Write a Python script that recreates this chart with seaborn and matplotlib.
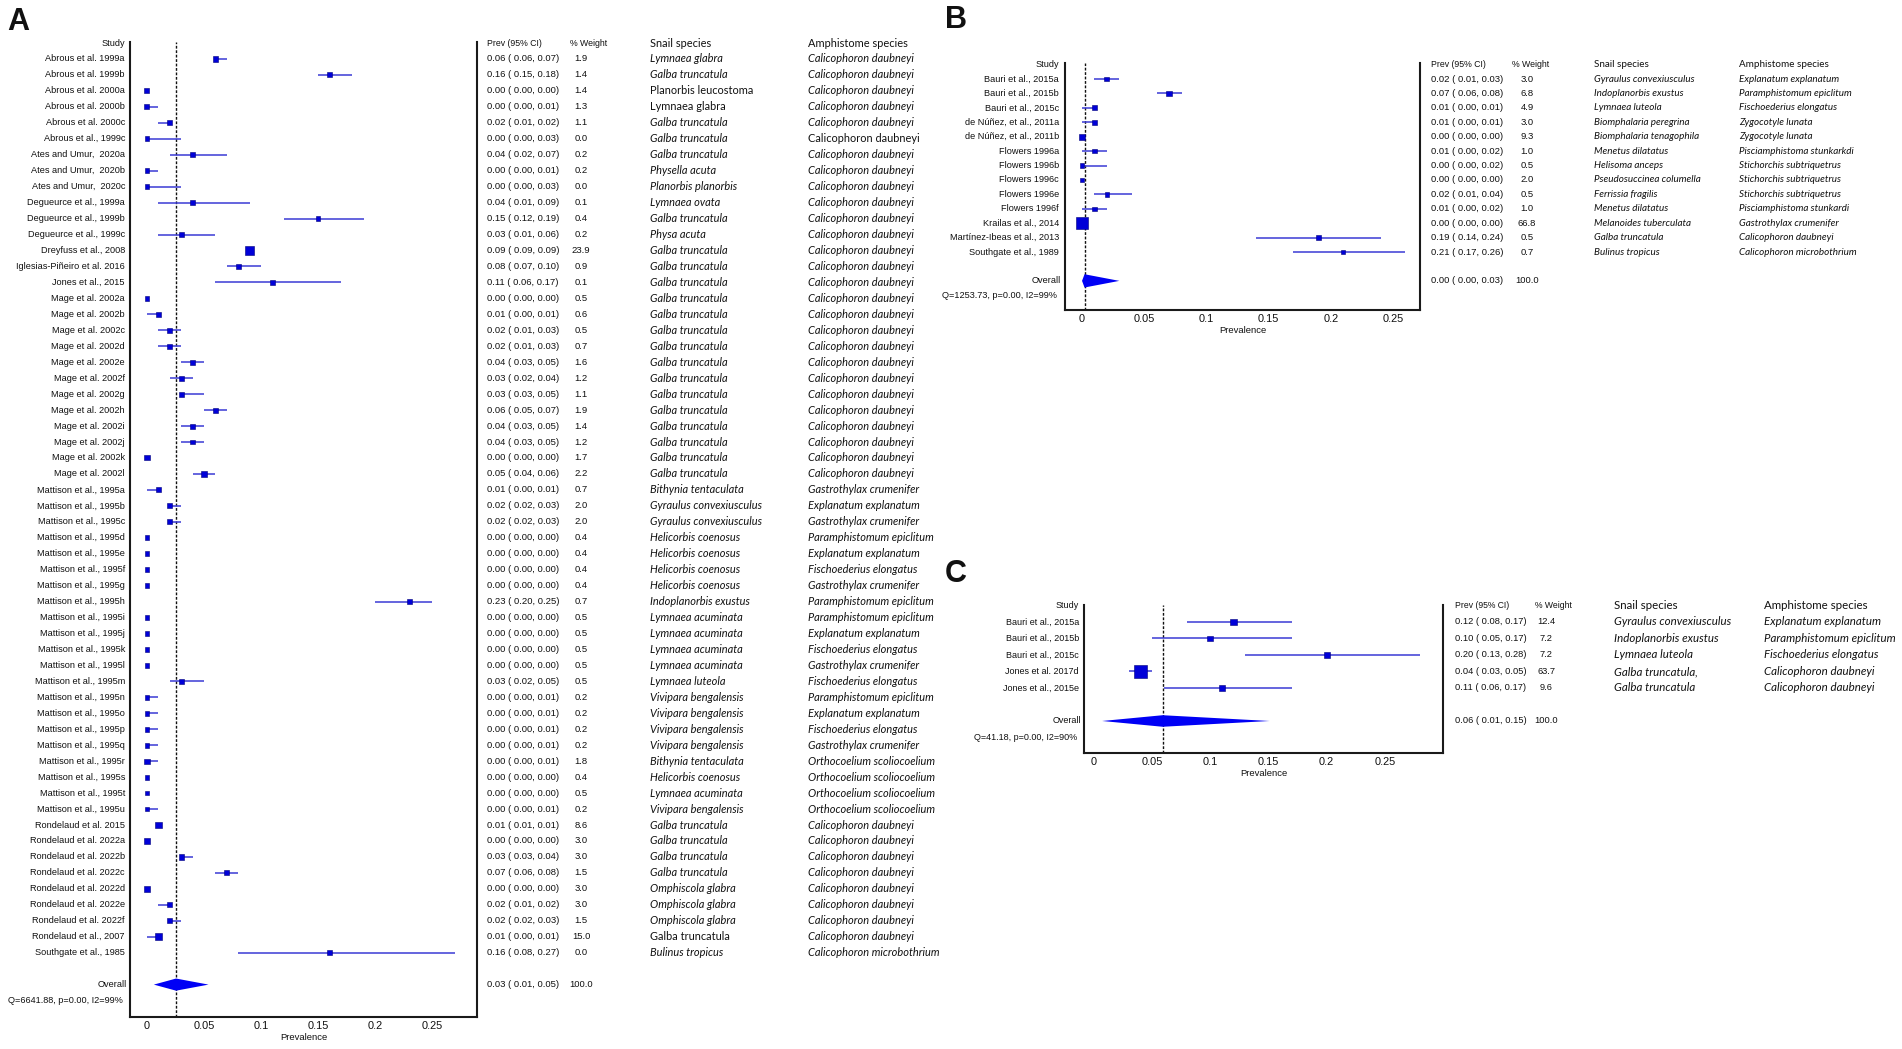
import numpy as np
import pandas as pd
import matplotlib
matplotlib.use("Agg")
import matplotlib.pyplot as plt
import matplotlib.transforms as mtransforms
import seaborn as sns

# ---------------- Panel A data ----------------
a_study = (["Abrous et al. 1999a", "Abrous et al. 1999b", "Abrous et al. 2000a",
            "Abrous et al. 2000b", "Abrous et al. 2000c", "Abrous et al., 1999c",
            "Ates and Umur,  2020a", "Ates and Umur,  2020b", "Ates and Umur,  2020c",
            "Degueurce et al., 1999a", "Degueurce et al., 1999b", "Degueurce et al., 1999c",
            "Dreyfuss et al., 2008", "Iglesias-Piñeiro et al. 2016", "Jones et al., 2015"]
           + [f"Mage et al. 2002{c}" for c in "abcdefghijkl"]
           + [f"Mattison et al., 1995{c}" for c in "abcdefghijklmnopqrstu"]
           + ["Rondelaud et al. 2015"]
           + [f"Rondelaud et al. 2022{c}" for c in "abcdef"]
           + ["Rondelaud et al., 2007", "Southgate et al., 1985"])
a_est = [0.06, 0.16, 0.00, 0.00, 0.02, 0.00, 0.04, 0.00, 0.00, 0.04, 0.15, 0.03, 0.09, 0.08, 0.11,
         0.00, 0.01, 0.02, 0.02, 0.04, 0.03, 0.03, 0.06, 0.04, 0.04, 0.00, 0.05,
         0.01, 0.02, 0.02, 0.00, 0.00, 0.00, 0.00, 0.23, 0.00, 0.00, 0.00, 0.00, 0.03,
         0.00, 0.00, 0.00, 0.00, 0.00, 0.00, 0.00, 0.00,
         0.01, 0.00, 0.03, 0.07, 0.00, 0.02, 0.02, 0.01, 0.16]
a_lo = [0.06, 0.15, 0.00, 0.00, 0.01, 0.00, 0.02, 0.00, 0.00, 0.01, 0.12, 0.01, 0.09, 0.07, 0.06,
        0.00, 0.00, 0.01, 0.01, 0.03, 0.02, 0.03, 0.05, 0.03, 0.03, 0.00, 0.04,
        0.00, 0.02, 0.02, 0.00, 0.00, 0.00, 0.00, 0.20, 0.00, 0.00, 0.00, 0.00, 0.02,
        0.00, 0.00, 0.00, 0.00, 0.00, 0.00, 0.00, 0.00,
        0.01, 0.00, 0.03, 0.06, 0.00, 0.01, 0.02, 0.00, 0.08]
a_hi = [0.07, 0.18, 0.00, 0.01, 0.02, 0.03, 0.07, 0.01, 0.03, 0.09, 0.19, 0.06, 0.09, 0.10, 0.17,
        0.00, 0.01, 0.03, 0.03, 0.05, 0.04, 0.05, 0.07, 0.05, 0.05, 0.00, 0.06,
        0.01, 0.03, 0.03, 0.00, 0.00, 0.00, 0.00, 0.25, 0.00, 0.00, 0.00, 0.00, 0.05,
        0.01, 0.01, 0.01, 0.01, 0.01, 0.00, 0.00, 0.01,
        0.01, 0.00, 0.04, 0.08, 0.00, 0.02, 0.03, 0.01, 0.27]
a_weight = [1.9, 1.4, 1.4, 1.3, 1.1, 0.0, 0.2, 0.2, 0.0, 0.1, 0.4, 0.2, 23.9, 0.9, 0.1,
            0.5, 0.6, 0.5, 0.7, 1.6, 1.2, 1.1, 1.9, 1.4, 1.2, 1.7, 2.2,
            0.7, 2.0, 2.0, 0.4, 0.4, 0.4, 0.4, 0.7, 0.5, 0.5, 0.5, 0.5, 0.5,
            0.2, 0.2, 0.2, 0.2, 1.8, 0.4, 0.5, 0.2,
            8.6, 3.0, 3.0, 1.5, 3.0, 3.0, 1.5, 15.0, 0.0]
a_snail = ["Lymnaea glabra", "Galba truncatula", "Planorbis leucostoma", "Lymnaea glabra",
           "Galba truncatula", "Galba truncatula", "Galba truncatula", "Physella acuta",
           "Planorbis planorbis", "Lymnaea ovata", "Galba truncatula", "Physa acuta",
           "Galba truncatula", "Galba truncatula", "Galba truncatula",
           "Galba truncatula", "Galba truncatula", "Galba truncatula", "Galba truncatula",
           "Galba truncatula", "Galba truncatula", "Galba truncatula", "Galba truncatula",
           "Galba truncatula", "Galba truncatula", "Galba truncatula", "Galba truncatula",
           "Bithynia tentaculata", "Gyraulus convexiusculus", "Gyraulus convexiusculus",
           "Helicorbis coenosus", "Helicorbis coenosus", "Helicorbis coenosus", "Helicorbis coenosus",
           "Indoplanorbis exustus", "Lymnaea acuminata", "Lymnaea acuminata", "Lymnaea acuminata",
           "Lymnaea acuminata", "Lymnaea luteola", "Vivipara bengalensis", "Vivipara bengalensis",
           "Vivipara bengalensis", "Vivipara bengalensis", "Bithynia tentaculata",
           "Helicorbis coenosus", "Lymnaea acuminata", "Vivipara bengalensis",
           "Galba truncatula", "Galba truncatula", "Galba truncatula", "Galba truncatula",
           "Omphiscola glabra", "Omphiscola glabra", "Omphiscola glabra", "Galba truncatula",
           "Bulinus tropicus"]
a_amph = (["Calicophoron daubneyi"] * 27
          + ["Gastrothylax crumenifer", "Explanatum explanatum", "Gastrothylax crumenifer",
             "Paramphistomum epiclitum", "Explanatum explanatum", "Fischoederius elongatus",
             "Gastrothylax crumenifer", "Paramphistomum epiclitum", "Paramphistomum epiclitum",
             "Explanatum explanatum", "Fischoederius elongatus", "Gastrothylax crumenifer",
             "Fischoederius elongatus", "Paramphistomum epiclitum", "Explanatum explanatum",
             "Fischoederius elongatus", "Gastrothylax crumenifer",
             "Orthocoelium scoliocoelium", "Orthocoelium scoliocoelium",
             "Orthocoelium scoliocoelium", "Orthocoelium scoliocoelium"]
          + ["Calicophoron daubneyi"] * 8
          + ["Calicophoron microbothrium"])
a_plain_snail = [3, 4, 56]   # rows printed upright in the source table
a_plain_amph = [6]
a_overall = [0.0255, 0.006, 0.054]
a_q = "Q=6641.88, p=0.00, I2=99%"

# ---------------- Panel B data ----------------
b_study = ["Bauri et al., 2015a", "Bauri et al., 2015b", "Bauri et al., 2015c",
           "de Núñez, et al., 2011a", "de Núñez, et al., 2011b", "Flowers 1996a",
           "Flowers 1996b", "Flowers 1996c", "Flowers 1996e", "Flowers 1996f",
           "Krailas et al., 2014", "Martínez-Ibeas et al., 2013", "Southgate et al., 1989"]
b_est = [0.02, 0.07, 0.01, 0.01, 0.00, 0.01, 0.00, 0.00, 0.02, 0.01, 0.00, 0.19, 0.21]
b_lo = [0.01, 0.06, 0.00, 0.00, 0.00, 0.00, 0.00, 0.00, 0.01, 0.00, 0.00, 0.14, 0.17]
b_hi = [0.03, 0.08, 0.01, 0.01, 0.00, 0.02, 0.02, 0.00, 0.04, 0.02, 0.00, 0.24, 0.26]
b_weight = [3.0, 6.8, 4.9, 3.0, 9.3, 1.0, 0.5, 2.0, 0.5, 1.0, 66.8, 0.5, 0.7]
b_snail = ["Gyraulus convexiusculus", "Indoplanorbis exustus", "Lymnaea luteola",
           "Biomphalaria peregrina", "Biomphalaria tenagophila", "Menetus dilatatus",
           "Helisoma anceps", "Pseudosuccinea columella", "Ferrissia fragilis",
           "Menetus dilatatus", "Melanoides tuberculata", "Galba truncatula", "Bulinus tropicus"]
b_amph = ["Explanatum explanatum", "Paramphistomum epiclitum", "Fischoederius elongatus",
          "Zygocotyle lunata", "Zygocotyle lunata", "Pisciamphistoma stunkarkdi",
          "Stichorchis subtriquetrus", "Stichorchis subtriquetrus", "Stichorchis subtriquetrus",
          "Pisciamphistoma stunkardi", "Gastrothylax crumenifer", "Calicophoron daubneyi",
          "Calicophoron microbothrium"]
b_overall = [0.002, 0.000, 0.030]
b_q = "Q=1253.73, p=0.00, I2=99%"

# ---------------- Panel C data ----------------
c_study = ["Bauri et al., 2015a", "Bauri et al., 2015b", "Bauri et al., 2015c",
           "Jones et al. 2017d", "Jones et al., 2015e"]
c_est = [0.12, 0.10, 0.20, 0.04, 0.11]
c_lo = [0.08, 0.05, 0.13, 0.03, 0.06]
c_hi = [0.17, 0.17, 0.28, 0.05, 0.17]
c_weight = [12.4, 7.2, 7.2, 63.7, 9.6]
c_snail = ["Gyraulus convexiusculus", "Indoplanorbis exustus", "Lymnaea luteola",
           "Galba truncatula,", "Galba truncatula"]
c_amph = ["Explanatum explanatum", "Paramphistomum epiclitum", "Fischoederius elongatus",
          "Calicophoron daubneyi", "Calicophoron daubneyi"]
c_overall = [0.059, 0.007, 0.151]
c_q = "Q=41.18, p=0.00, I2=90%"

tick_vals = [0, 0.05, 0.1, 0.15, 0.2, 0.25]
tick_labels = ["0", "0.05", "0.1", "0.15", "0.2", "0.25"]

W, H = 1902, 1049
CI_COLOR = "#3b3bd4"
BOX_FACE = "#0000d8"
BOX_EDGE = "#00007a"
DIAMOND = "#0000f5"
SANS = ["Liberation Sans", "DejaVu Sans"]
SPECIES = ["Lato", "DejaVu Sans"]

sns.set_style("white")
plt.rcParams["font.family"] = SANS


def draw_panel(fig, d, lay):
    left, top, right, bottom = lay["rect"]
    ax = fig.add_axes([left / W, 1 - bottom / H, (right - left) / W, (bottom - top) / H])
    n = len(d["study"])
    rows = np.arange(1, n + 1)

    # confidence intervals + weighted boxes
    ax.hlines(rows, d["lo"], d["hi"], color=CI_COLOR, lw=1.1, zorder=2)
    df = pd.DataFrame({"est": d["est"], "row": rows, "weight": d["weight"]})
    sns.scatterplot(data=df, x="est", y="row", size="weight", sizes=lay["sizes"],
                    size_norm=lay["size_norm"], marker="s", color=BOX_FACE,
                    edgecolor=BOX_EDGE, linewidth=0.4, legend=False, ax=ax, zorder=3)

    # pooled diamond and reference line
    e, lo, hi = d["overall"]
    ov = n + 2
    dh = lay["diamond_h"]
    ax.fill([lo, e, hi, e], [ov, ov - dh, ov, ov + dh], color=DIAMOND, lw=0, zorder=3)
    ax.axvline(e, color="#111111", ls=(0, (2.0, 1.2)), lw=1.0, zorder=1)

    ax.set_xlim(lay["xlim"])
    ax.set_ylim(n + lay["ybot"], lay["ytop"])
    ax.set_yticks([])
    ax.set_xticks(tick_vals)
    ax.set_xticklabels(tick_labels)
    ax.tick_params(axis="x", length=0, pad=3.0, labelsize=7.9, colors="#111111")
    ax.set_xlabel("Prevalence", fontsize=6.8, labelpad=1.3, color="#111111")
    ax.set_ylabel("")
    ax.spines["top"].set_visible(False)
    for s in ["left", "right", "bottom"]:
        ax.spines[s].set_color("#1a1a1a")
        ax.spines[s].set_linewidth(1.5)

    tr = mtransforms.blended_transform_factory(fig.transFigure, ax.transData)
    cx = lay["cols"]
    fs = lay["fs"]
    sfs = lay["sfs"]
    kw = dict(transform=tr, va="center", color="#111111")

    # header row
    ax.text(cx["study"] / W, 0, "Study", ha="right", fontsize=fs, **kw)
    ax.text(cx["prev"] / W, 0, "Prev (95% CI)", ha="left", fontsize=fs - 0.3, **kw)
    ax.text(cx["whead"] / W, 0, "% Weight", ha="left", fontsize=fs - 0.3, **kw)
    ax.text(cx["snail"] / W, 0, "Snail species", ha="left", fontsize=sfs,
            family=SPECIES, **kw)
    ax.text(cx["amph"] / W, 0, "Amphistome species", ha="left", fontsize=sfs,
            family=SPECIES, **kw)

    for i in range(n):
        r = i + 1
        ax.text(cx["study"] / W, r, d["study"][i], ha="right", fontsize=fs, **kw)
        ax.text(cx["prev"] / W, r,
                f"{d['est'][i]:.2f} ( {d['lo'][i]:.2f}, {d['hi'][i]:.2f})",
                ha="left", fontsize=fs + 0.2, **kw)
        ax.text(cx["weight"] / W, r, f"{d['weight'][i]:.1f}", ha="center",
                fontsize=fs + 0.2, **kw)
        st = "normal" if r in d.get("plain_snail", []) else "italic"
        ax.text(cx["snail"] / W, r, d["snail"][i], ha="left", fontsize=sfs,
                family=SPECIES, style=st, **kw)
        st = "normal" if r in d.get("plain_amph", []) else "italic"
        ax.text(cx["amph"] / W, r, d["amph"][i], ha="left", fontsize=sfs,
                family=SPECIES, style=st, **kw)

    ax.text(cx["study"] / W + 2 / W, ov, "Overall", ha="right", fontsize=fs, **kw)
    ax.text(cx["prev"] / W, ov, f"{e:.2f} ( {lo:.2f}, {hi:.2f})", ha="left",
            fontsize=fs + 0.2, **kw)
    ax.text(cx["weight"] / W, ov, "100.0", ha="center", fontsize=fs + 0.2, **kw)
    ax.text(cx["study"] / W - 2 / W, ov + 1, d["q"], ha="right", fontsize=fs, **kw)

    lx, ly = lay["letter"]
    fig.text(lx / W, 1 - ly / H, lay["name"], fontsize=22, fontweight="bold",
             ha="left", va="baseline", color="#111111")
    return ax


fig = plt.figure(figsize=(W / 100, H / 100), dpi=100)
fig.patch.set_facecolor("white")

panel_a = dict(study=a_study, est=a_est, lo=a_lo, hi=a_hi, weight=a_weight,
               snail=a_snail, amph=a_amph, overall=a_overall, q=a_q,
               plain_snail=a_plain_snail, plain_amph=a_plain_amph)
panel_b = dict(study=b_study, est=b_est, lo=b_lo, hi=b_hi, weight=b_weight,
               snail=b_snail, amph=b_amph, overall=b_overall, q=b_q)
panel_c = dict(study=c_study, est=c_est, lo=c_lo, hi=c_hi, weight=c_weight,
               snail=c_snail, amph=c_amph, overall=c_overall, q=c_q)

draw_panel(fig, panel_a, dict(
    name="A", letter=(7, 30), rect=(130, 42, 477, 1017),
    xlim=(-0.0149, 0.2895), ytop=-0.065, ybot=4.03,
    sizes=(11.4, 37.5), size_norm=(0, 23.9), diamond_h=0.38,
    cols=dict(study=125, prev=487, whead=570, weight=581, snail=650, amph=808),
    fs=6.6, sfs=7.95))

draw_panel(fig, panel_b, dict(
    name="B", letter=(945, 28), rect=(1065, 63, 1420, 310),
    xlim=(-0.0137, 0.2717), ytop=-0.11, ybot=4.02,
    sizes=(9.6, 78), size_norm=(0.5, 66.8), diamond_h=0.46,
    cols=dict(study=1059, prev=1431, whead=1512, weight=1527, snail=1594, amph=1739),
    fs=6.6, sfs=7.1))

draw_panel(fig, panel_c, dict(
    name="C", letter=(945, 582), rect=(1084, 605, 1443, 753),
    xlim=(-0.0086, 0.300), ytop=-0.03, ybot=3.94,
    sizes=(17.4, 83.5), size_norm=(7.2, 63.7), diamond_h=0.35,
    cols=dict(study=1079, prev=1455, whead=1535, weight=1546, snail=1614, amph=1764),
    fs=6.5, sfs=8.3))

fig.savefig("out.png", dpi=100, facecolor="white")
